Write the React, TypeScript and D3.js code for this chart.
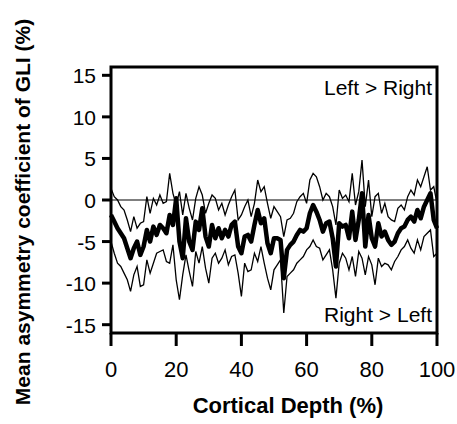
import React from "react";
import * as d3 from "d3";

const depth: number[] = d3.range(0, 101);

const meanValues: number[] = [
  -1.8, -2.6, -3.4, -4.0, -4.6, -5.8, -7.0, -5.8, -5.0, -6.6,
  -5.6, -3.6, -5.0, -3.2, -4.2, -3.0, -3.4, -4.0, -1.8, -3.0,
  0.2, -5.0, -7.0, -2.2, -5.0, -6.0, -2.6, -3.6, -1.0, -4.4,
  -5.6, -3.0, -4.6, -3.4, -4.6, -3.6, -4.4, -3.0, -2.6, -5.6,
  -6.4, -4.4, -4.2, -5.0, -3.0, -1.2, -2.8, -2.2, -5.2, -6.4,
  -4.6, -4.6, -4.8, -9.4, -6.0, -5.4, -5.0, -4.2, -3.6, -3.8,
  -3.4, -1.6, -0.6, -1.4, -2.4, -3.8, -2.8, -2.6, -4.6, -8.0,
  -2.8, -3.2, -3.0, -4.6, -1.4, -4.8, -2.4, 0.8, -5.6, -1.8,
  -4.6, -5.6, -2.8, -4.4, -3.8, -4.8, -5.4, -5.0, -4.0, -3.4,
  -3.2, -2.4, -2.0, -2.6, -1.2, -2.2, -0.8, 0.0, 0.8, -2.4,
  -3.4,
];

const upperValues: number[] = [
  1.4, 0.4, 0.0, -0.8, -1.2, -2.4, -3.8, -2.0, -3.4, -2.8,
  -2.6, 0.4, -1.6, 0.2, -0.6, 0.6, -0.4, -0.2, 3.2, 0.8,
  -0.6, 1.0, -1.8, 0.8, -1.0, -2.4, 0.2, 1.6, 0.6, -1.6,
  -0.4, 0.6, 0.2, -1.2, -0.4, -1.8, -0.6, 0.4, 1.2, -2.4,
  -1.8, -0.8, 0.0, -2.0, -0.4, 2.4, 1.0, 1.6, -0.4, -2.2,
  -0.8, -1.4, -2.0, -4.4, -2.4, -2.2, -1.6, -0.2, 0.4, 0.8,
  -0.4, 2.4, 3.2, 2.8, 1.6, 0.0, 0.8, 0.4, -0.8, -3.0,
  1.2, 0.2, 0.6, -0.2, 3.2, -0.6, 1.0, 4.8, -0.8, 2.4,
  -2.0, 0.4, 0.8, -1.6, -0.4, -2.0, -2.4, -2.6, -1.0, -0.6,
  -1.2, 0.4, 1.2, 0.6, 2.4, 1.6, 2.8, 4.0, 1.2, 1.6,
  -0.4,
];

const lowerValues: number[] = [
  -5.0, -6.4, -7.6, -8.0, -8.8, -9.6, -11.0, -9.0, -8.0, -10.4,
  -10.2, -7.2, -8.8, -7.6, -6.4, -6.2, -6.0, -7.4, -7.6, -5.4,
  -9.6, -12.0, -9.0, -6.6, -8.6, -10.4, -6.2, -7.6, -5.6, -8.2,
  -10.0, -7.0, -6.4, -7.6, -7.0, -6.0, -7.8, -6.8, -6.6, -8.8,
  -11.6, -7.6, -8.6, -8.4, -6.4, -7.4, -5.6, -7.6, -9.4, -10.8,
  -8.4, -7.8, -7.2, -13.6, -9.2, -8.8, -8.4, -7.6, -7.2, -6.8,
  -6.0, -5.6, -4.8, -5.6, -5.8, -7.2, -6.6, -6.0, -8.4, -11.8,
  -7.6, -6.4, -7.0, -8.4, -6.8, -9.2, -6.2, -7.0, -9.0, -6.8,
  -7.8, -10.2, -7.0, -8.0, -7.6, -7.8, -8.4, -7.4, -6.8, -6.0,
  -5.6, -4.8, -5.8, -6.4, -4.8, -6.0, -4.4, -4.0, -3.6, -6.8,
  -6.4,
];

const xTicks: number[] = [0, 20, 40, 60, 80, 100];
const yTicks: number[] = [15, 10, 5, 0, -5, -10, -15];

const xTitle = "Cortical Depth (%)";
const yTitle = "Mean asymmetry coefficient of GLI (%)";
const topNote = "Left > Right";
const bottomNote = "Right > Left";

export default function App() {
  const W = 457;
  const H = 424;
  const left = 111;
  const right = 437;
  const top = 67;
  const bottom = 333;

  const x = d3.scaleLinear().domain([0, 100]).range([left, right]);
  const y = d3.scaleLinear().domain([-16, 16]).range([bottom, top]);

  const line = (vals: number[]) =>
    d3
      .line<number>()
      .x((_, i) => x(depth[i]))
      .y((v) => y(v))(vals) || "";

  const font = "'Liberation Sans', Arial, Helvetica, sans-serif";

  return (
    <svg
      width={W}
      height={H}
      style={{ position: "absolute", left: 0, top: 0, background: "#fff" }}
      fontFamily={font}
    >
      <rect x={0} y={0} width={W} height={H} fill="#fff" />
      <line x1={left} x2={right} y1={y(0)} y2={y(0)} stroke="#000" strokeWidth={1.2} />
      <path d={line(upperValues)} fill="none" stroke="#000" strokeWidth={1.3} />
      <path d={line(lowerValues)} fill="none" stroke="#000" strokeWidth={1.3} />
      <path d={line(meanValues)} fill="none" stroke="#000" strokeWidth={4.5} strokeLinejoin="round" />

      <rect
        x={left}
        y={top}
        width={right - left}
        height={bottom - top}
        fill="none"
        stroke="#000"
        strokeWidth={3}
      />
      {xTicks.map((t) => (
        <g key={"x" + t}>
          <line x1={x(t)} x2={x(t)} y1={bottom} y2={bottom + 13} stroke="#000" strokeWidth={3} />
          <text x={x(t)} y={377} textAnchor="middle" fontSize={22} fill="#000">
            {t}
          </text>
        </g>
      ))}
      {yTicks.map((t) => (
        <g key={"y" + t}>
          <line x1={left - 9} x2={left} y1={y(t)} y2={y(t)} stroke="#000" strokeWidth={3} />
          <text x={96} y={y(t) + 8} textAnchor="end" fontSize={21} fill="#000">
            {t}
          </text>
        </g>
      ))}

      <text x={432} y={95} textAnchor="end" fontSize={21} fill="#000">
        {topNote}
      </text>
      <text x={432} y={322} textAnchor="end" fontSize={21} fill="#000">
        {bottomNote}
      </text>

      <text x={288} y={413} textAnchor="middle" fontSize={22} fontWeight="bold" fill="#000">
        {xTitle}
      </text>
      <text
        transform={`translate(30, 212) rotate(-90)`}
        textAnchor="middle"
        fontSize={21}
        fontWeight="bold"
        fill="#000"
      >
        {yTitle}
      </text>
    </svg>
  );
}
